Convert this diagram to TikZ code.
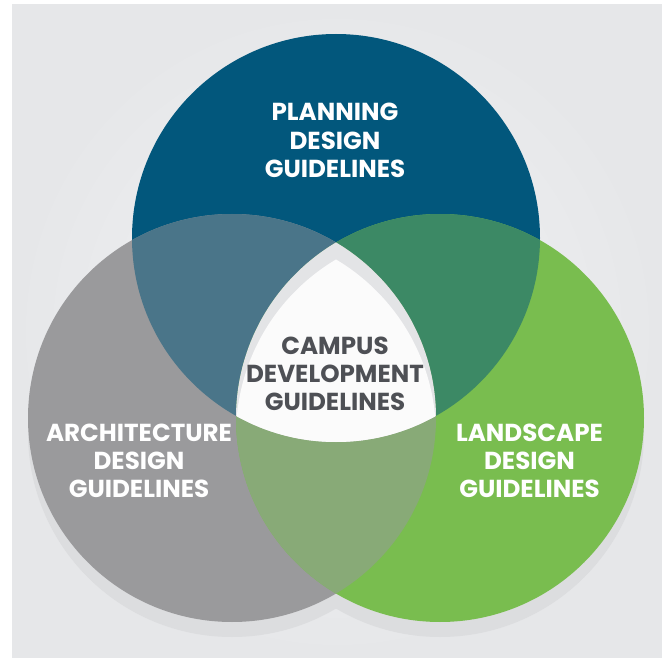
\documentclass[tikz,border=0pt]{standalone}
\usepackage{fontspec}
\setmainfont{Poppins}
\usetikzlibrary{calc}
\definecolor{bgin}{HTML}{F2F3F5}
\definecolor{bgout}{HTML}{E6E7E9}
\definecolor{shadowc}{HTML}{DCDDDF}
\definecolor{planc}{HTML}{02577C}
\definecolor{archc}{HTML}{9A9A9C}
\definecolor{landc}{HTML}{79BD4F}
\definecolor{pac}{HTML}{4A7589}
\definecolor{plc}{HTML}{3C8965}
\definecolor{alc}{HTML}{88AA77}
\definecolor{bandc}{HTML}{E3E4E6}
\definecolor{corec}{HTML}{FBFBFB}
\definecolor{darktext}{HTML}{4E5055}
\tikzset{
  lbl/.style={align=center, inner sep=0pt, font=\fontsize{24.6}{28.2}\selectfont\bfseries},
}
\begin{document}
\begin{tikzpicture}[x=1pt,y=-1pt]
\def\R{204pt}
\useasboundingbox (0,0) rectangle (662,658);
\fill[white] (0,0) rectangle (662,658);
\shade[inner color=bgin, outer color=bgout] (12,5) rectangle (662,658);
\coordinate (pc) at (336,238);
\coordinate (ac) at (232,418);
\coordinate (lc) at (440,418);
% shadows
\fill[shadowc] ($(ac)+(0,15)$) circle[radius=\R];
\fill[shadowc] ($(lc)+(0,15)$) circle[radius=\R];
\fill[shadowc] ($(pc)+(0,15)$) circle[radius=\R];
% circles
\fill[planc] (pc) circle[radius=\R];
\fill[archc] (ac) circle[radius=\R];
\fill[landc] (lc) circle[radius=\R];
% pairwise overlaps
\begin{scope}
  \clip (pc) circle[radius=\R];
  \fill[pac] (ac) circle[radius=\R];
  \fill[plc] (lc) circle[radius=\R];
\end{scope}
\begin{scope}
  \clip (ac) circle[radius=\R];
  \fill[alc] (lc) circle[radius=\R];
\end{scope}
% core
\begin{scope}
  \clip (pc) circle[radius=\R];
  \clip (ac) circle[radius=\R];
  \fill[bandc] (lc) circle[radius=\R];
  \clip (lc) circle[radius=\R];
  \clip ($(ac)+(0,17)$) circle[radius=\R];
  \fill[corec] ($(lc)+(0,17)$) circle[radius=\R];
\end{scope}
% labels
\node[lbl, text=white] (plan) at (335,140.4) {PLANNING\\DESIGN\\GUIDELINES};
\node[lbl, text=darktext] (camp) at (335,374) {CAMPUS\\DEVELOPMENT\\GUIDELINES};
\node[lbl, text=white] (arch) at (139,461) {ARCHITECTURE\\DESIGN\\GUIDELINES};
\node[lbl, text=white] (land) at (529.5,461) {LANDSCAPE\\DESIGN\\GUIDELINES};
\end{tikzpicture}
\end{document}
